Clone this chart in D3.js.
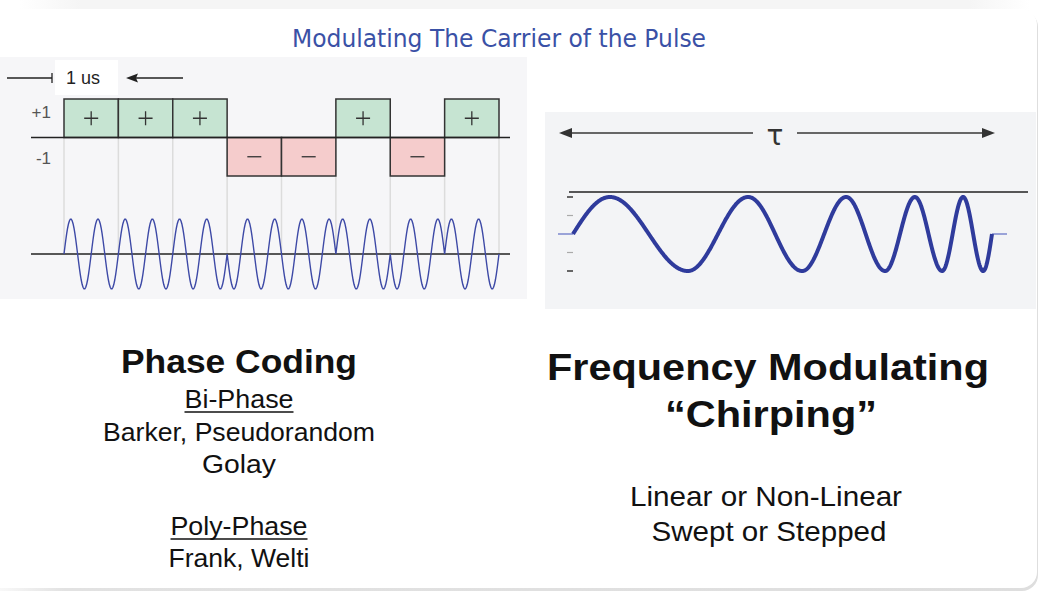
<!DOCTYPE html>
<html>
<head>
<meta charset="utf-8">
<script src="https://cdn.jsdelivr.net/npm/d3@7"></script>
<style>
html,body{margin:0;padding:0;background:#fff;}
svg{display:block;}
</style>
</head>
<body>
<svg id="chart" width="1042" height="592"></svg>
<script>
// ---------------- data ----------------
const title = "Modulating The Carrier of the Pulse";
const bits = [1, 1, 1, -1, -1, 1, -1, 1];          // phase code chips
const bitSymbols = ["+", "+", "+", "-", "-", "+", "-", "+"];
const levelTicks = [1, -1];
const levelTickLabels = ["+1", "-1"];
const carrierCyclesPerBit = 2;
const chipLabel = "1 us";
// chirp: key points (fraction of pulse width) and their normalized amplitude
const chirpKeyT = [0, 0.088, 0.274, 0.418, 0.547, 0.652, 0.745, 0.816, 0.881, 0.931, 0.979, 1.0];
const chirpKeyV = [0, 1, -1, 1, -1, 1, -1, 1, -1, 1, -1, 0];
const chirpTickLevels = [1, 0.5, -0.5, -1];
const pulseLabel = "\u03C4";
const leftLines = [
  {text: "Phase Coding", bold: true, size: 33, y: 373, len: 236},
  {text: "Bi-Phase", underline: true, size: 26.5, y: 408, len: 109},
  {text: "Barker, Pseudorandom", size: 26.5, y: 441, len: 272},
  {text: "Golay", size: 26.5, y: 473, len: 74},
  {text: "Poly-Phase", underline: true, size: 26.5, y: 535, len: 137},
  {text: "Frank, Welti", size: 26.5, y: 567, len: 141}
];
const rightLines = [
  {text: "Frequency Modulating", bold: true, size: 37, y: 380, len: 442, cx: 768},
  {text: "\u201CChirping\u201D", bold: true, size: 37, y: 427, len: 212, cx: 771},
  {text: "Linear or Non-Linear", size: 28, y: 506, len: 272, cx: 766},
  {text: "Swept or Stepped", size: 28, y: 541, len: 235, cx: 769}
];

// ---------------- setup ----------------
const svg = d3.select("#chart");
const FONT = "'Liberation Sans', Arial, sans-serif";
const defs = svg.append("defs");

const tg = defs.append("linearGradient").attr("id","topg").attr("x1",0).attr("x2",1).attr("y1",0).attr("y2",0);
tg.append("stop").attr("offset","0%").attr("stop-color","#ffffff");
tg.append("stop").attr("offset","6%").attr("stop-color","#f5f5f5");
tg.append("stop").attr("offset","94%").attr("stop-color","#f5f5f5");
tg.append("stop").attr("offset","100%").attr("stop-color","#ffffff");
const bg = defs.append("linearGradient").attr("id","botg").attr("x1",0).attr("x2",1).attr("y1",0).attr("y2",0);
bg.append("stop").attr("offset","0%").attr("stop-color","#ffffff");
bg.append("stop").attr("offset","8%").attr("stop-color","#e2e2e2");
bg.append("stop").attr("offset","100%").attr("stop-color","#dedede");

// page card
svg.append("rect").attr("x",20).attr("y",0).attr("width",1010).attr("height",12).attr("fill","url(#topg)");
svg.append("rect").attr("x",-20).attr("y",11).attr("width",1058).attr("height",580).attr("rx",16).attr("fill","url(#botg)");
svg.append("rect").attr("x",-20).attr("y",9).attr("width",1057).attr("height",579).attr("rx",16).attr("fill","#ffffff");

// title
svg.append("text").attr("x",499).attr("y",47).attr("text-anchor","middle")
  .attr("font-family","'DejaVu Sans', Verdana, sans-serif").attr("font-size",24)
  .attr("textLength",414).attr("lengthAdjust","spacingAndGlyphs")
  .attr("fill","#3a51a6").text(title);

// ---------------- left: phase coding ----------------
const L = svg.append("g");
L.append("rect").attr("x",0).attr("y",57).attr("width",527).attr("height",242).attr("fill","#f6f6f8");
L.append("rect").attr("x",55).attr("y",60).attr("width",63).attr("height",35).attr("fill","#ffffff");

const xBit = d3.scaleLinear().domain([0, bits.length]).range([64, 499]);
const yLevel = d3.scaleLinear().domain([-1, 1]).range([176, 99]);
const yWave = d3.scaleLinear().domain([-1, 1]).range([289, 219]);

// chip width marker
L.append("line").attr("x1",7).attr("x2",52).attr("y1",78).attr("y2",78).attr("stroke","#222").attr("stroke-width",1.3);
L.append("line").attr("x1",52).attr("x2",52).attr("y1",73).attr("y2",83).attr("stroke","#222").attr("stroke-width",1.3);
L.append("text").attr("x",66).attr("y",84).attr("font-family",FONT).attr("font-size",18).attr("fill","#222").text(chipLabel);
L.append("line").attr("x1",135).attr("x2",183).attr("y1",78).attr("y2",78).attr("stroke","#222").attr("stroke-width",1.3);
L.append("path").attr("d","M126,78 L138,73.5 L136,78 L138,82.5 Z").attr("fill","#222");

// guide lines
L.selectAll("line.guide").data(d3.range(bits.length + 1)).join("line").attr("class","guide")
  .attr("x1",d=>xBit(d)).attr("x2",d=>xBit(d)).attr("y1",yLevel(0)).attr("y2",yWave(0))
  .attr("stroke","#dcdcdc").attr("stroke-width",1.5);

// level tick labels
L.selectAll("text.lvl").data(levelTicks).join("text").attr("class","lvl")
  .attr("x",51).attr("y",d=>d>0?118:164).attr("text-anchor","end")
  .attr("font-family",FONT).attr("font-size",17).attr("fill","#555")
  .text((d,i)=>levelTickLabels[i]);

// chip boxes
const chips = L.selectAll("g.chip").data(bits).join("g").attr("class","chip");
chips.append("rect")
  .attr("x",(d,i)=>xBit(i)).attr("width",(d,i)=>xBit(i+1)-xBit(i))
  .attr("y",d=>d>0?yLevel(1):yLevel(0)).attr("height",d=>Math.abs(yLevel(0)-yLevel(1)))
  .attr("fill",d=>d>0?"#c6e4d2":"#f5cccc").attr("stroke","#333").attr("stroke-width",1.5);
// +/- glyphs drawn as thin strokes at chip centres
const half = 7;
chips.append("path")
  .attr("d",(d,i)=>{
    const cx = (xBit(i)+xBit(i+1))/2, cy = (yLevel(0)+yLevel(d))/2;
    let p = `M${cx-half},${cy}H${cx+half}`;
    if (bitSymbols[i] === "+") p += `M${cx},${cy-half}V${cy+half}`;
    return p;
  })
  .attr("stroke","#333").attr("stroke-width",1.3).attr("fill","none");

// zero line of code
L.append("line").attr("x1",31).attr("x2",510).attr("y1",yLevel(0)).attr("y2",yLevel(0)).attr("stroke","#222").attr("stroke-width",1.5);

// carrier wave, phase flipped per chip
const wavePts = [];
bits.forEach((b,i)=>{
  const n = 60;
  for (let k=0;k<=n;k++){
    const f = k/n;
    wavePts.push([i+f, b*Math.sin(2*Math.PI*carrierCyclesPerBit*f)]);
  }
});
L.append("line").attr("x1",31).attr("x2",510).attr("y1",yWave(0)).attr("y2",yWave(0)).attr("stroke","#222").attr("stroke-width",1.5);
L.append("path").datum(wavePts)
  .attr("d",d3.line().x(d=>xBit(d[0])).y(d=>yWave(d[1])))
  .attr("fill","none").attr("stroke","#3d49a6").attr("stroke-width",1.4);

// ---------------- right: chirp ----------------
const R = svg.append("g");
R.append("rect").attr("x",545).attr("y",112).attr("width",491).attr("height",197).attr("fill","#f3f4f6");

const xT = d3.scaleLinear().domain([0,1]).range([573, 992]);
const yC = d3.scaleLinear().domain([-1,1]).range([271, 197]);

// tau arrow
R.append("line").attr("x1",568).attr("x2",753).attr("y1",133).attr("y2",133).attr("stroke","#666").attr("stroke-width",2);
R.append("line").attr("x1",797).attr("x2",986).attr("y1",133).attr("y2",133).attr("stroke","#666").attr("stroke-width",2);
R.append("path").attr("d","M559,133 L572,128 L572,138 Z").attr("fill","#333");
R.append("path").attr("d","M995,133 L982,128 L982,138 Z").attr("fill","#333");
R.append("text").attr("x",775).attr("y",145).attr("text-anchor","middle")
  .attr("font-family","'DejaVu Sans', sans-serif").attr("font-size",28).attr("fill","#333").text(pulseLabel);

// top reference line
R.append("line").attr("x1",569).attr("x2",1028).attr("y1",192).attr("y2",192).attr("stroke","#222").attr("stroke-width",1.5);
// amplitude dashes
R.selectAll("line.ct").data(chirpTickLevels).join("line").attr("class","ct")
  .attr("x1",567).attr("x2",573).attr("y1",d=>yC(d)).attr("y2",d=>yC(d))
  .attr("stroke",d=>Math.abs(d)===1?"#666":"#aaa").attr("stroke-width",d=>Math.abs(d)===1?2:1.2);
// baseline stubs
R.append("line").attr("x1",558).attr("x2",xT(0)).attr("y1",yC(0)).attr("y2",yC(0)).attr("stroke","#6a78c8").attr("stroke-width",1.3);
R.append("line").attr("x1",xT(1)).attr("x2",1007).attr("y1",yC(0)).attr("y2",yC(0)).attr("stroke","#6a78c8").attr("stroke-width",1.3);

// chirp curve: phase interpolated between read key points
const nK = chirpKeyV.length;
const keyPhase = chirpKeyV.map((v,i)=>{
  if (i === 0) return 0;
  if (i === nK-1) return (i-1)*Math.PI;
  return (2*i-1)*Math.PI/2;
});
const phaseAt = d3.scaleLinear().domain(chirpKeyT).range(keyPhase);
const chirpPts = d3.range(0, 1.0001, 0.001).map(t=>[t, Math.sin(phaseAt(t))]);
R.append("path").datum(chirpPts)
  .attr("d",d3.line().x(d=>xT(d[0])).y(d=>yC(d[1])))
  .attr("fill","none").attr("stroke","#2f3b9c").attr("stroke-width",4).attr("stroke-linejoin","round");

// ---------------- captions ----------------
function addLines(sel, lines, cxDefault){
  lines.forEach(l=>{
    const cx = l.cx || cxDefault;
    sel.append("text").attr("x",cx).attr("y",l.y).attr("text-anchor","middle")
      .attr("font-family",FONT).attr("font-size",l.size)
      .attr("font-weight",l.bold?"bold":"normal").attr("fill","#111")
      .attr("textLength",l.len).attr("lengthAdjust","spacingAndGlyphs")
      .text(l.text);
    if (l.underline){
      sel.append("line").attr("x1",cx-l.len/2).attr("x2",cx+l.len/2)
        .attr("y1",l.y+4).attr("y2",l.y+4).attr("stroke","#111").attr("stroke-width",1.6);
    }
  });
}
addLines(svg.append("g"), leftLines, 239);
addLines(svg.append("g"), rightLines, 768);
</script>
</body>
</html>
